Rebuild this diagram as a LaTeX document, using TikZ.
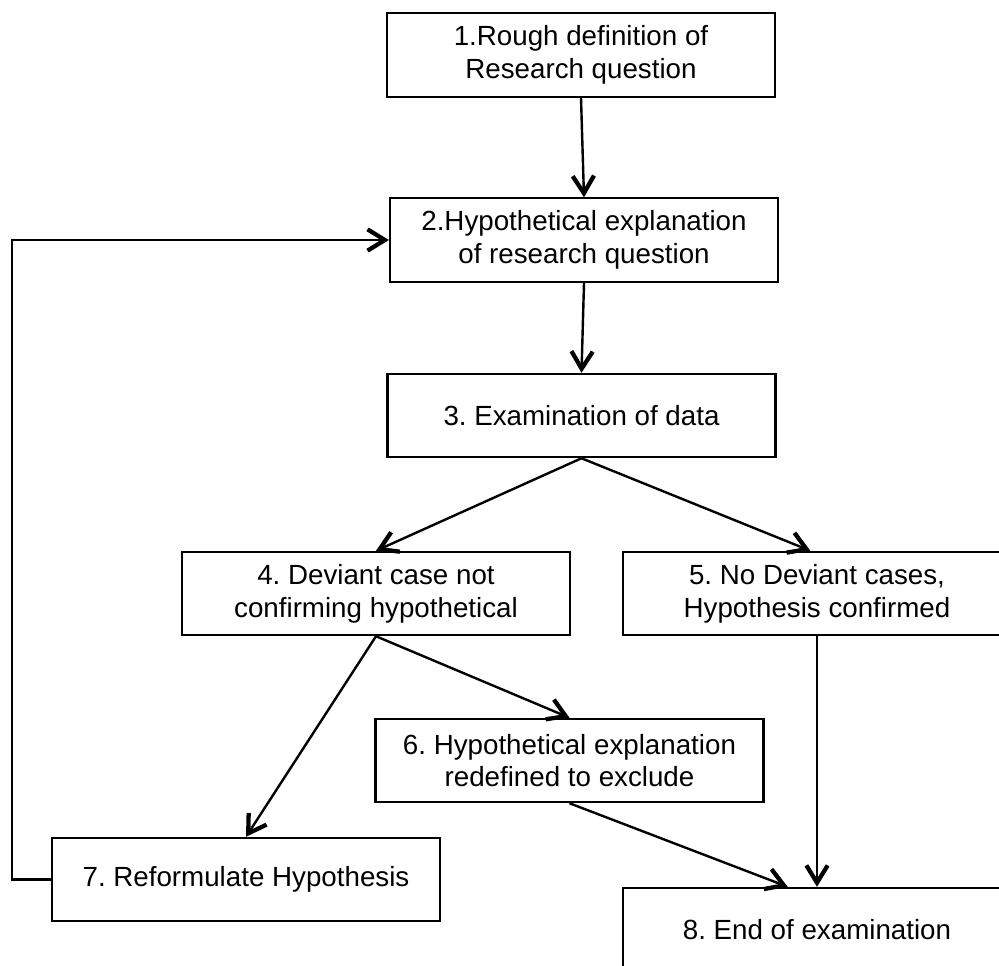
\documentclass[tikz,border=0pt]{standalone}
\usepackage{fontspec}
\setmainfont{Liberation Sans}
\usetikzlibrary{arrows.meta}
\frenchspacing

\begin{document}
\begin{tikzpicture}[x=0.75pt,y=-0.75pt,
	box/.style={draw, line width=1.6pt, align=center, inner sep=0pt,
		minimum width=291pt, minimum height=62.5pt,
		font=\fontsize{20.8pt}{24.5pt}\selectfont},
	flow/.style={line width=1.8pt,
		-{Straight Barb[length=13pt,width=16pt,line width=3.2pt]}}]
	\clip (0,0) rectangle (999,965);
	\node[box] (rough) at (581,55) {1.Rough definition of\\Research question};
	\node[box] (hypo) at (584,240) {2.Hypothetical explanation\\of research question};
	\node[box] (exam) at (581.5,415.5) {3. Examination of data};
	\node[box] (dev) at (376,593.5) {4. Deviant case not\\confirming hypothetical};
	\node[box] (nodev) at (817,593.5) {5. No Deviant cases,\\Hypothesis confirmed};
	\node[box] (redef) at (569.5,760.5) {6. Hypothetical explanation\\redefined to exclude};
	\node[box] (reform) at (246,879.5) {7. Reformulate Hypothesis};
	\node[box] (done) at (817,929.5) {8. End of examination};
	\coordinate (back) at (12,240);
	\path[flow]
	(rough.south) edge (hypo.north)
	(hypo.south) edge (exam.north)
	(exam.south) edge (dev.north)
	  edge ([xshift=-5pt]nodev.north)
	(dev.south) edge (reform.north)
	  edge (redef.north)
	(redef.south) edge ([xshift=-22pt]done.north)
	(nodev.south) edge (done.north);
	\draw[flow] (reform.west) -| (back) -- (hypo.west);
\end{tikzpicture}
\end{document}
